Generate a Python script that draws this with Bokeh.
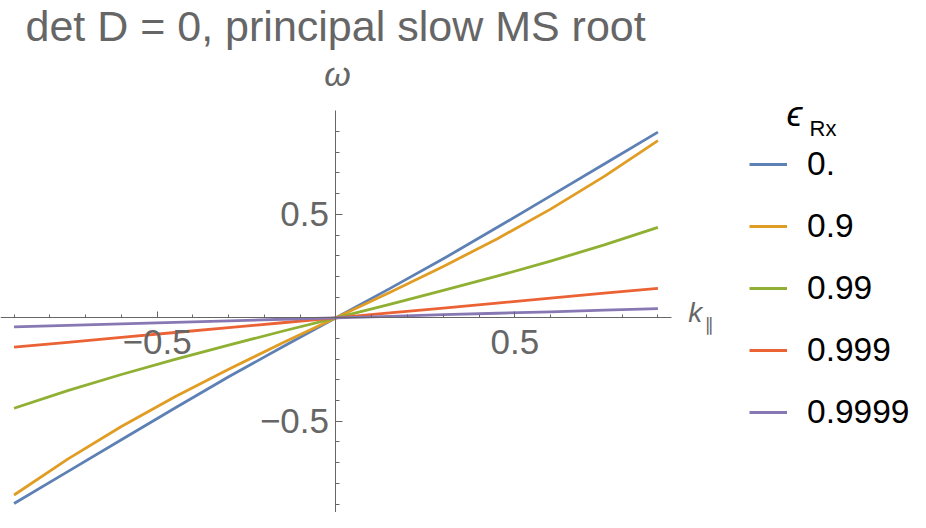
from bokeh.plotting import figure
from bokeh.models import FixedTicker, CustomJSTickFormatter, Label, Legend, LegendItem
from bokeh.embed import file_html
from bokeh.resources import INLINE

# ---- data ----
k_par = [-0.9, -0.75, -0.6, -0.45, -0.3, -0.15, 0.0, 0.15, 0.3, 0.45, 0.6, 0.75, 0.9]
eps_labels = ["0.", "0.9", "0.99", "0.999", "0.9999"]
omega_eps_0 = [-0.897, -0.743, -0.589, -0.436, -0.285, -0.141, 0.0, 0.141, 0.285, 0.436, 0.589, 0.743, 0.897]
omega_eps_09 = [-0.856, -0.683, -0.525, -0.381, -0.248, -0.122, 0.0, 0.122, 0.248, 0.381, 0.525, 0.683, 0.856]
omega_eps_099 = [-0.437, -0.352, -0.274, -0.201, -0.132, -0.065, 0.0, 0.065, 0.132, 0.201, 0.274, 0.352, 0.437]
omega_eps_0999 = [-0.142, -0.119, -0.095, -0.071, -0.047, -0.024, 0.0, 0.024, 0.047, 0.071, 0.095, 0.119, 0.142]
omega_eps_09999 = [-0.044, -0.037, -0.029, -0.022, -0.015, -0.007, 0.0, 0.007, 0.015, 0.022, 0.029, 0.037, 0.044]
series = [omega_eps_0, omega_eps_09, omega_eps_099, omega_eps_0999, omega_eps_09999]
colors = ["#5E81B5", "#E19C24", "#8FB032", "#EB6235", "#8778B3"]

major_ticks = [-0.5, 0.5]
minor_ticks = [-0.9, -0.8, -0.7, -0.6, -0.4, -0.3, -0.2, -0.1,
               0.1, 0.2, 0.3, 0.4, 0.6, 0.7, 0.8, 0.9]

AX = "#666666"
FONT = "Liberation Sans"

# the frame fills the whole canvas; axis lines are limited with bounds
p = figure(width=910, height=512,
           x_range=(-0.9379, 1.6061), y_range=(-0.9406, 1.5329),
           output_backend="svg", toolbar_location=None,
           min_border_left=0, min_border_right=0,
           min_border_top=0, min_border_bottom=0)
p.outline_line_color = None
p.xgrid.visible = False
p.ygrid.visible = False
p.background_fill_color = "white"
p.border_fill_color = "white"

fmt = CustomJSTickFormatter(code="return (tick < 0 ? '\u2212' : '') + Math.abs(tick).toFixed(1);")

for ax in (p.xaxis[0], p.yaxis[0]):
    ax.fixed_location = 0
    ax.ticker = FixedTicker(ticks=major_ticks, minor_ticks=minor_ticks)
    ax.formatter = fmt
    ax.axis_line_color = AX
    ax.axis_line_width = 1
    ax.major_tick_line_color = AX
    ax.minor_tick_line_color = AX
    ax.major_tick_out = 0
    ax.minor_tick_out = 0
    ax.major_label_text_font = FONT
    ax.major_label_text_font_size = "35px"
    ax.major_label_text_color = AX

p.xaxis[0].bounds = (-0.94, 0.938)
p.yaxis[0].bounds = (-0.99, 1.0)
p.xaxis[0].major_tick_in = 6
p.xaxis[0].minor_tick_in = 3
p.xaxis[0].major_label_standoff = 12
p.yaxis[0].major_tick_in = 7
p.yaxis[0].minor_tick_in = 4
p.yaxis[0].major_label_standoff = 7

renderers = []
for ys, c in zip(series, colors):
    r = p.line(k_par, ys, line_color=c, line_width=2.8, line_join="round")
    renderers.append(r)

legend = Legend(items=[LegendItem(label=l, renderers=[r]) for l, r in zip(eps_labels, renderers)],
                location=(749, 80.5), orientation="vertical",
                glyph_width=38, glyph_height=40, label_height=40,
                label_standoff=20, spacing=22, padding=0, margin=0,
                border_line_color=None, background_fill_alpha=0,
                label_text_font=FONT, label_text_font_size="33.5px",
                label_text_color="black")
p.add_layout(legend)

def lab(x, y, text, size, color=AX, style="normal", align="left", font=FONT):
    p.add_layout(Label(x=x, y=y, x_units="screen", y_units="screen", text=text,
                       text_font=font, text_font_size=size, text_color=color,
                       text_font_style=style, text_align=align,
                       text_baseline="alphabetic"))

lab(25, 487, "det D = 0, principal slow MS root", "43px")
lab(337, 439, "\u03c9", "34px", style="italic", align="center")
lab(687.7, 200.5, "k", "28px", style="italic")
lab(704, 188, "\u2225", "18px", font="DejaVu Sans")
lab(786, 399, "\u03f5", "36px", color="black", style="italic")
lab(809, 384, "Rx", "22px", color="black")

open("out.html", "w").write(file_html(p, INLINE))
